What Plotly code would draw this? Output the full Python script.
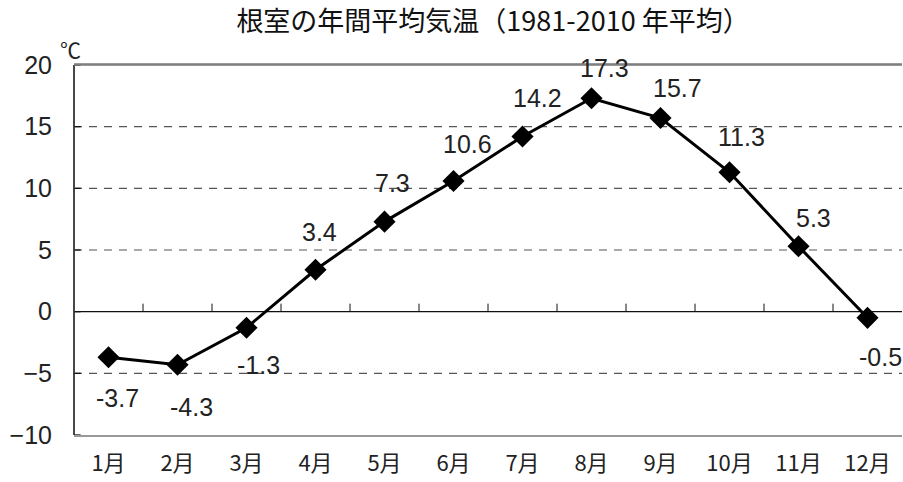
import plotly.graph_objects as go

months = ["1月", "2月", "3月", "4月", "5月", "6月", "7月", "8月", "9月", "10月", "11月", "12月"]
temps = [-3.7, -4.3, -1.3, 3.4, 7.3, 10.6, 14.2, 17.3, 15.7, 11.3, 5.3, -0.5]
y_ticks = [-10, -5, 0, 5, 10, 15, 20]

# label offsets (pixels) relative to each marker
label_dx = [9, 14, 12, 4, 8, 14, 15, 13, 17, 12, 15, 13]
label_dy = [-41, -42, -37, 38, 39, 37, 39, 30, 30, 35, 28, -39]

xs = list(range(len(months)))

fig = go.Figure()

# dashed gridlines
for v in y_ticks:
    if v in (0, 20, -10):
        continue
    fig.add_shape(type="line", xref="paper", x0=0, x1=1, yref="y", y0=v, y1=v,
                  line=dict(color="#555", width=1.2, dash="8px,7px"), layer="below")
# zero line
fig.add_shape(type="line", xref="paper", x0=0, x1=1, yref="y", y0=0, y1=0,
              line=dict(color="#111", width=1.3), layer="below")
# ticks on the zero line at category boundaries
for i in range(1, len(months)):
    fig.add_shape(type="line", xref="x", x0=i - 0.5, x1=i - 0.5, yref="y", y0=0, y1=0.65,
                  line=dict(color="#111", width=1), layer="below")
# left axis inward ticks
for v in y_ticks:
    fig.add_shape(type="line", xref="paper", x0=0, x1=0.008, yref="y", y0=v, y1=v,
                  line=dict(color="#111", width=1.3))

fig.add_trace(go.Scatter(
    x=xs, y=temps, mode="lines+markers",
    line=dict(color="black", width=3),
    marker=dict(symbol="diamond", size=17, color="black"),
    hoverinfo="skip", showlegend=False,
))

for x, t, dx, dy in zip(xs, temps, label_dx, label_dy):
    fig.add_annotation(x=x, y=t, text=f"{t:.1f}", showarrow=False,
                       xshift=dx, yshift=dy,
                       font=dict(size=25, color="#222", family="Liberation Sans"))

fig.add_annotation(xref="paper", yref="paper", x=-0.004, y=1.0, text="℃",
                   showarrow=False, xanchor="center", yanchor="bottom", yshift=-1,
                   font=dict(size=21, color="#222", family="Noto Sans CJK JP"))

fig.update_layout(
    width=903, height=482,
    margin=dict(l=74, r=1, t=65, b=47),
    paper_bgcolor="white", plot_bgcolor="white",
    title=dict(text="根室の年間平均気温（1981-2010 年平均）",
               x=0.546, xanchor="center", y=0.955, yanchor="middle",
               font=dict(size=27, color="#111", family="Noto Sans CJK JP")),
    xaxis=dict(range=[-0.5, 11.5], tickvals=xs, ticktext=months, showgrid=False,
               zeroline=False, ticks="", showline=True, linecolor="#999", linewidth=1.5,
               mirror=True, tickfont=dict(size=22, color="#222", family="Noto Sans CJK JP"),
               ticklabelstandoff=8),
    yaxis=dict(range=[-10, 20], tickvals=y_ticks, showgrid=False, zeroline=False,
               ticks="", showline=False,
               tickfont=dict(size=25, color="#222", family="Liberation Sans"),
               ticklabelstandoff=21),
)
# left axis line dark, other borders gray
fig.add_shape(type="line", xref="paper", yref="paper", x0=0, x1=0, y0=0, y1=1,
              line=dict(color="#333", width=1.8))
fig.add_shape(type="line", xref="paper", yref="paper", x0=0, x1=1, y0=1, y1=1,
              line=dict(color="#777", width=1.5))

fig.write_html("out.html", config={"displayModeBar": False},
               post_script="document.body.style.margin='0';")
